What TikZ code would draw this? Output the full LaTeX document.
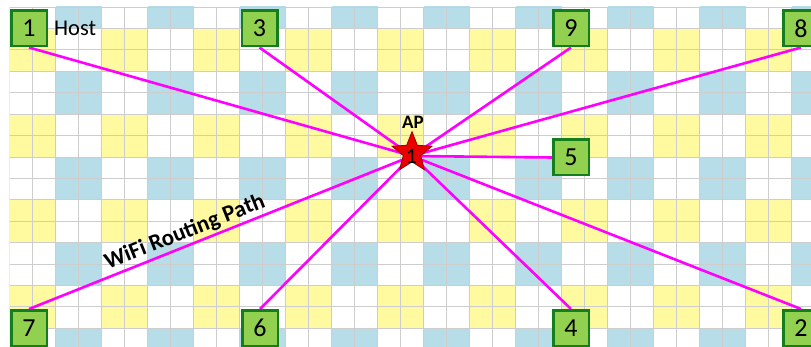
\documentclass[tikz,border=0pt]{standalone}
\usepackage{fontspec}
\setmainfont{Carlito}
\usetikzlibrary{shapes.geometric}
\definecolor{cellY}{RGB}{255,250,160}
\definecolor{cellB}{RGB}{183,221,232}
\definecolor{gridL}{RGB}{205,205,205}
\definecolor{hostG}{RGB}{146,208,80}
\definecolor{hostB}{RGB}{20,125,30}
\definecolor{pathM}{RGB}{255,0,255}
\definecolor{starR}{RGB}{235,0,0}
\definecolor{starB}{RGB}{150,0,0}
\pgfdeclarelayer{grid}
\pgfdeclarelayer{edges}
\pgfsetlayers{grid,edges,main}
\begin{document}
\begin{tikzpicture}[x=1pt,y=-1pt,
 host/.style={draw=hostB, fill=hostG, line width=2.5pt, minimum size=35.5pt, inner sep=0pt, font=\fontsize{26}{26}\selectfont},
 link/.style={draw=pathM, line width=2.6pt},
 gline/.style={draw=gridL, line width=0.8pt},
]
\useasboundingbox (0,0) rectangle (811,347);
\begin{pgfonlayer}{grid}
\fill[white] (0,0) rectangle (811,347);
\begin{scope}
\clip (9.5,7) rectangle (811,347);
\foreach \c in {0,4,...,32} \foreach \r in {1,5,9,13} {
  \fill[cellY] (9.5+23*\c, 7+21.42*\r) rectangle ++(46,42.84);
}
\foreach \c in {2,6,...,34} \foreach \r in {-1,3,7,11,15} {
  \fill[cellB] (9.5+23*\c, 7+21.42*\r) rectangle ++(46,42.84);
}
\foreach \c in {0,...,35} \draw[gline] (9.5+23*\c,7) -- (9.5+23*\c,347);
\foreach \r in {0,...,16} \draw[gline] (9.5,7+21.42*\r) -- (811,7+21.42*\r);
\end{scope}
\end{pgfonlayer}

\node[host] (n1) at (29,28.5) {1};
\node[host] (n3) at (259.5,28.5) {3};
\node[host] (n9) at (571,28.5) {9};
\node[host] (n8) at (801,28.5) {8};
\node[host] (n5) at (571,157.5) {5};
\node[host] (n7) at (29,328) {7};
\node[host] (n6) at (260,328) {6};
\node[host] (n4) at (571,328) {4};
\node[host] (n2) at (801,328) {2};
\node[anchor=west, inner sep=0pt, font=\fontsize{22.5}{22.5}\selectfont] (hostlab) at (54,28) {Host};

\node[star, star points=5, star point ratio=2.3, minimum size=42pt, inner sep=0pt, fill=starR, draw=starB, line width=0.8pt] (ap) at (412,152.7) {};
\node[inner sep=0pt, font=\fontsize{22}{22}\selectfont] (apnum) at (411.5,156.5) {1};
\node[inner sep=0pt, font=\bfseries\fontsize{19}{19}\selectfont] (aplab) at (413,122.5) {AP};
\coordinate (hub) at (412,156);

\begin{pgfonlayer}{edges}
\draw[link] (n1.south) -- (hub);
\draw[link] (n3.south) -- (hub);
\draw[link] (n9.south) -- (hub);
\draw[link] (n8.south) -- (hub);
\draw[link] (n5.west) -- (hub);
\draw[link] (n6.north) -- (hub);
\draw[link] (n4.north) -- (hub);
\draw[link] (n2.north) -- (hub);
\draw[link] (n7.north) -- node[sloped, above, pos=0.42, inner sep=2pt, font=\bfseries\fontsize{23}{23}\selectfont] (wifilab) {WiFi Routing Path} (hub);
\end{pgfonlayer}
\end{tikzpicture}
\end{document}
